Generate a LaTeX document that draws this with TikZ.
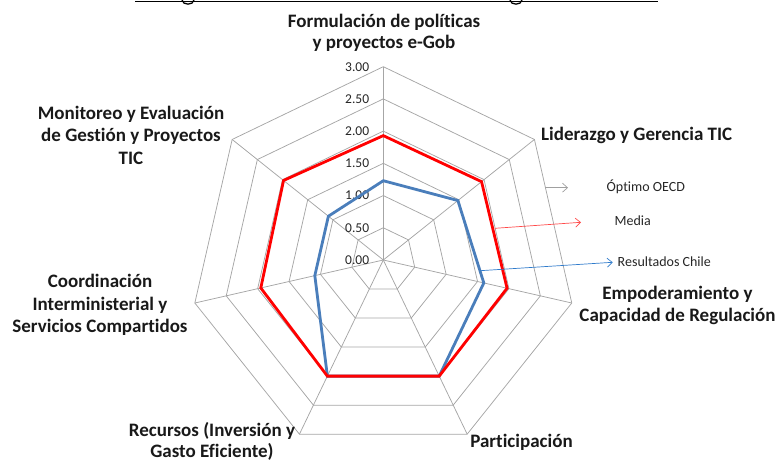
\documentclass[tikz,border=0pt]{standalone}
\usepackage{fontspec}
\setmainfont[Ligatures={NoCommon}]{Carlito}
\usetikzlibrary{arrows.meta}
\definecolor{gridgray}{HTML}{A6A6A6}
\definecolor{chileblue}{HTML}{4A7EBB}
\definecolor{mediared}{HTML}{FF0000}
\definecolor{leggray}{HTML}{A0A0A0}
\definecolor{legred}{HTML}{FF4A4A}
\definecolor{legblue}{HTML}{2F7BCB}
\tikzset{
  gridline/.style={draw=gridgray, line width=0.75pt},
  serie/.style={line width=2.8pt, line join=miter},
  axlabel/.style={font=\fontsize{19}{22.5}\selectfont\bfseries, align=center, inner sep=0pt, text=black!90},
  axlabeltight/.style={axlabel, font=\fontsize{19}{21}\selectfont\bfseries},
  ticklabel/.style={font=\fontsize{13.5}{15}\selectfont, anchor=east, inner sep=0pt, text=black!85},
  legtext/.style={font=\fontsize{14}{15}\selectfont, anchor=west, inner sep=0pt, text=black!85},
  legarrow/.style={line width=0.7pt, -{Straight Barb[length=5pt,width=9pt]}}
}
\begin{document}
\begin{tikzpicture}[x=1pt,y=1pt]
\useasboundingbox (0,0) rectangle (777,461);
% clipped title remnants
\coordinate (tl) at (135,459.6);
\coordinate (tr) at (658,459.6);
\draw[line width=1.3pt] (tl) -- (tr);
\draw[line width=1.3pt] (182,461) .. controls (182.5,455.5) and (193.5,455.5) .. (194,461);
\draw[line width=1.3pt] (510,461) .. controls (510.5,455.5) and (521.5,455.5) .. (522,461);

\begin{scope}[shift={(383.3,201)}]
  \coordinate (C) at (0,0);
  % rings
  \foreach \r in {1,...,6} {
    \draw[gridline] (90:\r*32.22) \foreach \k in {1,...,6} { -- ({90-\k*360/7}:\r*32.22) } -- cycle;
  }
  % spokes
  \foreach \k in {0,...,6} {
    \coordinate (ax\k) at ({90-\k*360/7}:193.3);
    \draw[gridline] (C) -- (ax\k);
  }
  % tick labels
  \foreach \i/\t in {0/0.00,1/0.50,2/1.00,3/1.50,4/2.00,5/2.50,6/3.00} {
    \node[ticklabel] (tick\i) at (-14,\i*32.22) {\t};
  }
  % data series
  \def\u{64.44}
  \coordinate (b0) at ({90}:1.23*\u);
  \coordinate (b1) at ({90-1*360/7}:1.48*\u);
  \coordinate (b2) at ({90-2*360/7}:1.60*\u);
  \coordinate (b3) at ({90-3*360/7}:2.00*\u);
  \coordinate (b4) at ({90-4*360/7}:2.00*\u);
  \coordinate (b5) at ({90-5*360/7}:1.09*\u);
  \coordinate (b6) at ({90-6*360/7}:1.09*\u);
  \draw[serie, chileblue] (b0) -- (b1) -- (b2) -- (b3) -- (b4) -- (b5) -- (b6) -- cycle;
  \coordinate (m0) at ({90}:1.93*\u);
  \coordinate (m1) at ({90-1*360/7}:1.95*\u);
  \coordinate (m2) at ({90-2*360/7}:1.97*\u);
  \coordinate (m3) at ({90-3*360/7}:2.00*\u);
  \coordinate (m4) at ({90-4*360/7}:2.00*\u);
  \coordinate (m5) at ({90-5*360/7}:1.95*\u);
  \coordinate (m6) at ({90-6*360/7}:1.98*\u);
  \draw[serie, mediared] (m0) -- (m1) -- (m2) -- (m3) -- (m4) -- (m5) -- (m6) -- cycle;
\end{scope}

% axis labels
\node[axlabeltight] (lab0) at (384,428.5) {Formulación de políticas\\y proyectos e-Gob};
\node[axlabel] (lab1) at (636.7,326) {Liderazgo y Gerencia TIC};
\node[axlabel] (lab2) at (677.5,155.7) {Empoderamiento y\\Capacidad de Regulación};
\node[axlabel] (lab3) at (521.5,19) {Participación};
\node[axlabeltight] (lab4) at (212,20) {Recursos (Inversión y\\Gasto Eficiente)};
\node[axlabel] (lab5) at (100,156) {Coordinación\\Interministerial y\\Servicios Compartidos};
\node[axlabel] (lab6) at (131,326) {Monitoreo y Evaluación\\de Gestión y Proyectos\\TIC};

% legend
\coordinate (g0) at (545,273.3);
\coordinate (g1) at (568,273.3);
\coordinate (r0) at (495,232.7);
\coordinate (r1) at (581,238.7);
\coordinate (s0) at (480,190.3);
\coordinate (s1) at (612.7,198.7);
\draw[legarrow, leggray] (g0) -- (g1);
\draw[legarrow, legred] (r0) -- (r1);
\draw[legarrow, legblue] (s0) -- (s1);
\node[legtext] (leg0) at (606.5,274) {Óptimo OECD};
\node[legtext] (leg1) at (614.5,240) {Media};
\node[legtext] (leg2) at (617.5,199) {Resultados Chile};
\end{tikzpicture}
\end{document}
